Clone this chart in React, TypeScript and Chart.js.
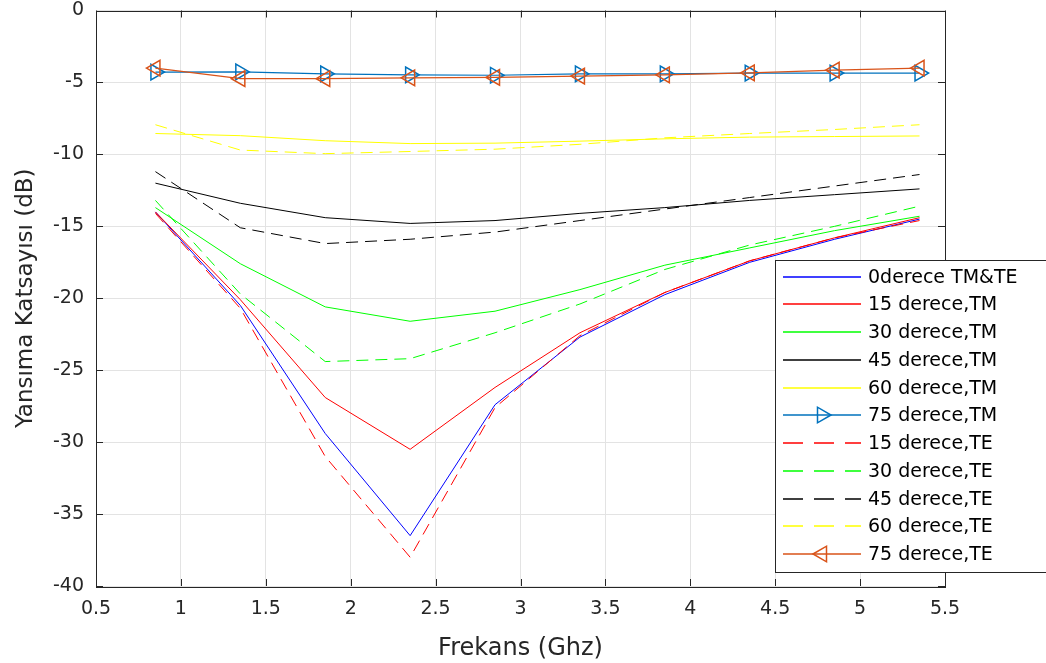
import { useEffect, useRef } from "react";
import { Chart, registerables } from "chart.js";

Chart.register(...registerables);

// ---- Data ----
const frequencies = [0.85, 1.35, 1.85, 2.35, 2.85, 3.35, 3.85, 4.35, 4.85, 5.35];
const xTicks = [0.5, 1, 1.5, 2, 2.5, 3, 3.5, 4, 4.5, 5, 5.5];
const yTicks = [-40, -35, -30, -25, -20, -15, -10, -5, 0];

const deg0TMTE = [-14.0, -20.5, -29.4, -36.5, -27.4, -22.7, -19.75, -17.5, -15.9, -14.5];
const deg15TM = [-14.0, -20.1, -26.9, -30.5, -26.2, -22.4, -19.6, -17.4, -15.8, -14.4];
const deg30TM = [-13.7, -17.6, -20.6, -21.6, -20.9, -19.4, -17.7, -16.5, -15.3, -14.3];
const deg45TM = [-12.0, -13.4, -14.4, -14.8, -14.6, -14.1, -13.7, -13.2, -12.8, -12.4];
const deg60TM = [-8.55, -8.7, -9.05, -9.25, -9.22, -9.08, -8.92, -8.8, -8.76, -8.72];
const deg75TM = [-4.28, -4.27, -4.4, -4.47, -4.5, -4.41, -4.4, -4.35, -4.35, -4.35];
const deg15TE = [-14.1, -20.7, -31.0, -38.0, -27.6, -22.6, -19.6, -17.4, -15.8, -14.6];
const deg30TE = [-13.2, -19.7, -24.4, -24.2, -22.4, -20.4, -18.0, -16.3, -15.0, -13.6];
const deg45TE = [-11.2, -15.1, -16.2, -15.9, -15.4, -14.6, -13.8, -13.0, -12.2, -11.4];
const deg60TE = [-7.94, -9.7, -9.95, -9.8, -9.64, -9.3, -8.85, -8.55, -8.27, -7.94];
const deg75TE = [-4.0, -4.74, -4.74, -4.68, -4.65, -4.56, -4.47, -4.33, -4.14, -4.0];

const seriesLabels = [
  "0derece TM&TE",
  "15 derece,TM",
  "30 derece,TM",
  "45 derece,TM",
  "60 derece,TM",
  "75 derece,TM",
  "15 derece,TE",
  "30 derece,TE",
  "45 derece,TE",
  "60 derece,TE",
  "75 derece,TE",
];
const seriesValues = [
  deg0TMTE, deg15TM, deg30TM, deg45TM, deg60TM, deg75TM,
  deg15TE, deg30TE, deg45TE, deg60TE, deg75TE,
];
const seriesColors = [
  "#0000FF", "#FF0000", "#00FF00", "#000000", "#FFFF00", "#0072BD",
  "#FF0000", "#00FF00", "#000000", "#FFFF00", "#D95319",
];
const seriesDashed = [false, false, false, false, false, false, true, true, true, true, false];
// marker: 0 none, 1 right triangle, -1 left triangle
const seriesMarker = [0, 0, 0, 0, 0, 1, 0, 0, 0, 0, -1];

const FONT = "'DejaVu Sans', 'Liberation Sans', Arial, sans-serif";
const AXIS_COLOR = "#262626";

function drawTri(ctx: CanvasRenderingContext2D, x: number, y: number, r: number, dir: number) {
  let rad = dir > 0 ? Math.PI / 2 : -Math.PI / 2;
  ctx.beginPath();
  for (let k = 0; k < 3; k++) {
    const px = x + Math.sin(rad) * r;
    const py = y - Math.cos(rad) * r;
    if (k === 0) ctx.moveTo(px, py);
    else ctx.lineTo(px, py);
    rad += (2 * Math.PI) / 3;
  }
  ctx.closePath();
  ctx.stroke();
}

const frameTicksPlugin = {
  id: "frameTicks",
  afterDatasetsDraw(chart: any) {
    const { ctx, chartArea, scales } = chart;
    const { left, right, top, bottom } = chartArea;
    ctx.save();
    ctx.strokeStyle = AXIS_COLOR;
    ctx.lineWidth = 1;
    ctx.setLineDash([]);
    ctx.beginPath();
    const tl = 7;
    xTicks.forEach((v) => {
      const x = Math.round(scales.x.getPixelForValue(v)) + 0.5;
      ctx.moveTo(x, bottom);
      ctx.lineTo(x, bottom - tl);
      ctx.moveTo(x, top);
      ctx.lineTo(x, top + tl);
    });
    yTicks.forEach((v) => {
      const y = Math.round(scales.y.getPixelForValue(v)) + 0.5;
      ctx.moveTo(left, y);
      ctx.lineTo(left + tl, y);
      ctx.moveTo(right, y);
      ctx.lineTo(right - tl, y);
    });
    ctx.stroke();
    ctx.strokeRect(Math.round(left) + 0.5, Math.round(top) + 0.5, Math.round(right - left), Math.round(bottom - top));
    ctx.restore();
  },
};

const legendPlugin = {
  id: "matlabLegend",
  afterDraw(chart: any) {
    const ctx: CanvasRenderingContext2D = chart.ctx;
    ctx.save();
    const L = 775, T = 260, R = 1052, B = 572;
    ctx.setLineDash([]);
    ctx.fillStyle = "#ffffff";
    ctx.fillRect(L, T, R - L, B - T);
    ctx.strokeStyle = AXIS_COLOR;
    ctx.lineWidth = 1;
    ctx.strokeRect(L + 0.5, T + 0.5, R - L, B - T);
    seriesLabels.forEach((label, i) => {
      const y = Math.round(276.7 + i * 27.74);
      const color = seriesColors[i];
      ctx.strokeStyle = color;
      ctx.lineWidth = 1.4;
      ctx.setLineDash(seriesDashed[i] ? [20, 11] : []);
      ctx.beginPath();
      ctx.moveTo(783, y);
      ctx.lineTo(861, y);
      ctx.stroke();
      ctx.setLineDash([]);
      if (seriesMarker[i] !== 0) {
        ctx.strokeStyle = color;
        ctx.lineWidth = 1.5;
        drawTri(ctx, 822, y, 9, seriesMarker[i]);
      }
      ctx.fillStyle = "#000000";
      ctx.font = `19px ${FONT}`;
      ctx.textBaseline = "middle";
      ctx.textAlign = "left";
      ctx.fillText(label, 868, y + 1);
    });
    ctx.restore();
  },
};

export default function App() {
  const canvasRef = useRef<HTMLCanvasElement | null>(null);

  useEffect(() => {
    const canvas = canvasRef.current;
    if (!canvas) return;
    const n = seriesLabels.length;
    const datasets = seriesLabels.map((label, i) => {
      const hasMarker = seriesMarker[i] !== 0;
      return {
        label,
        data: frequencies.map((f, j) => ({ x: f, y: seriesValues[i][j] })),
        borderColor: seriesColors[i],
        backgroundColor: seriesColors[i],
        borderWidth: hasMarker ? 1.2 : 1,
        borderDash: seriesDashed[i] ? [12, 7] : [],
        pointRadius: hasMarker ? 9 : 0,
        pointStyle: hasMarker ? "triangle" : "circle",
        pointRotation: seriesMarker[i] > 0 ? 90 : seriesMarker[i] < 0 ? -90 : 0,
        pointBorderColor: seriesColors[i],
        pointBackgroundColor: "rgba(0,0,0,0)",
        pointBorderWidth: 1.5,
        tension: 0,
        fill: false,
        order: n - i,
      };
    });

    const chart = new Chart(canvas, {
      type: "line",
      data: { datasets },
      options: {
        animation: false,
        responsive: false,
        devicePixelRatio: 1,
        layout: { padding: { left: 0, top: 9, right: 101, bottom: 0 } },
        plugins: {
          legend: { display: false },
          tooltip: { enabled: false },
          title: { display: false },
        },
        scales: {
          x: {
            type: "linear",
            min: 0.5,
            max: 5.5,
            afterBuildTicks: (scale: any) => {
              scale.ticks = xTicks.map((v) => ({ value: v }));
            },
            afterFit: (scale: any) => {
              scale.height = 77;
              scale.paddingLeft = 0;
              scale.paddingRight = 0;
            },
            grid: { color: "#e3e3e3", lineWidth: 1, drawTicks: false },
            border: { display: false },
            ticks: {
              color: AXIS_COLOR,
              font: { family: FONT, size: 19 },
              padding: 12,
              maxRotation: 0,
              autoSkip: false,
              callback: (v: any) => String(v),
            },
            title: {
              display: true,
              text: "Frekans (Ghz)",
              color: AXIS_COLOR,
              font: { family: FONT, size: 24 },
              padding: { top: 0, bottom: 0 },
            },
          },
          y: {
            type: "linear",
            min: -40,
            max: 0,
            afterBuildTicks: (scale: any) => {
              scale.ticks = yTicks.map((v) => ({ value: v }));
            },
            afterFit: (scale: any) => {
              scale.width = 96;
              scale.paddingTop = 0;
              scale.paddingBottom = 0;
            },
            grid: { color: "#e3e3e3", lineWidth: 1, drawTicks: false },
            border: { display: false },
            ticks: {
              color: AXIS_COLOR,
              font: { family: FONT, size: 19 },
              padding: 12,
              autoSkip: false,
              callback: (v: any) => String(v),
            },
            title: {
              display: true,
              text: "Yansıma Katsayısı (dB)",
              color: AXIS_COLOR,
              font: { family: FONT, size: 23 },
              padding: { top: 12, bottom: 0 },
            },
          },
        },
      },
      plugins: [frameTicksPlugin, legendPlugin],
    } as any);

    return () => {
      chart.destroy();
    };
  }, []);

  return (
    <div style={{ position: "fixed", left: 0, top: 0, width: 1046, height: 663, background: "#ffffff" }}>
      <canvas ref={canvasRef} width={1046} height={663} style={{ display: "block" }} />
    </div>
  );
}
